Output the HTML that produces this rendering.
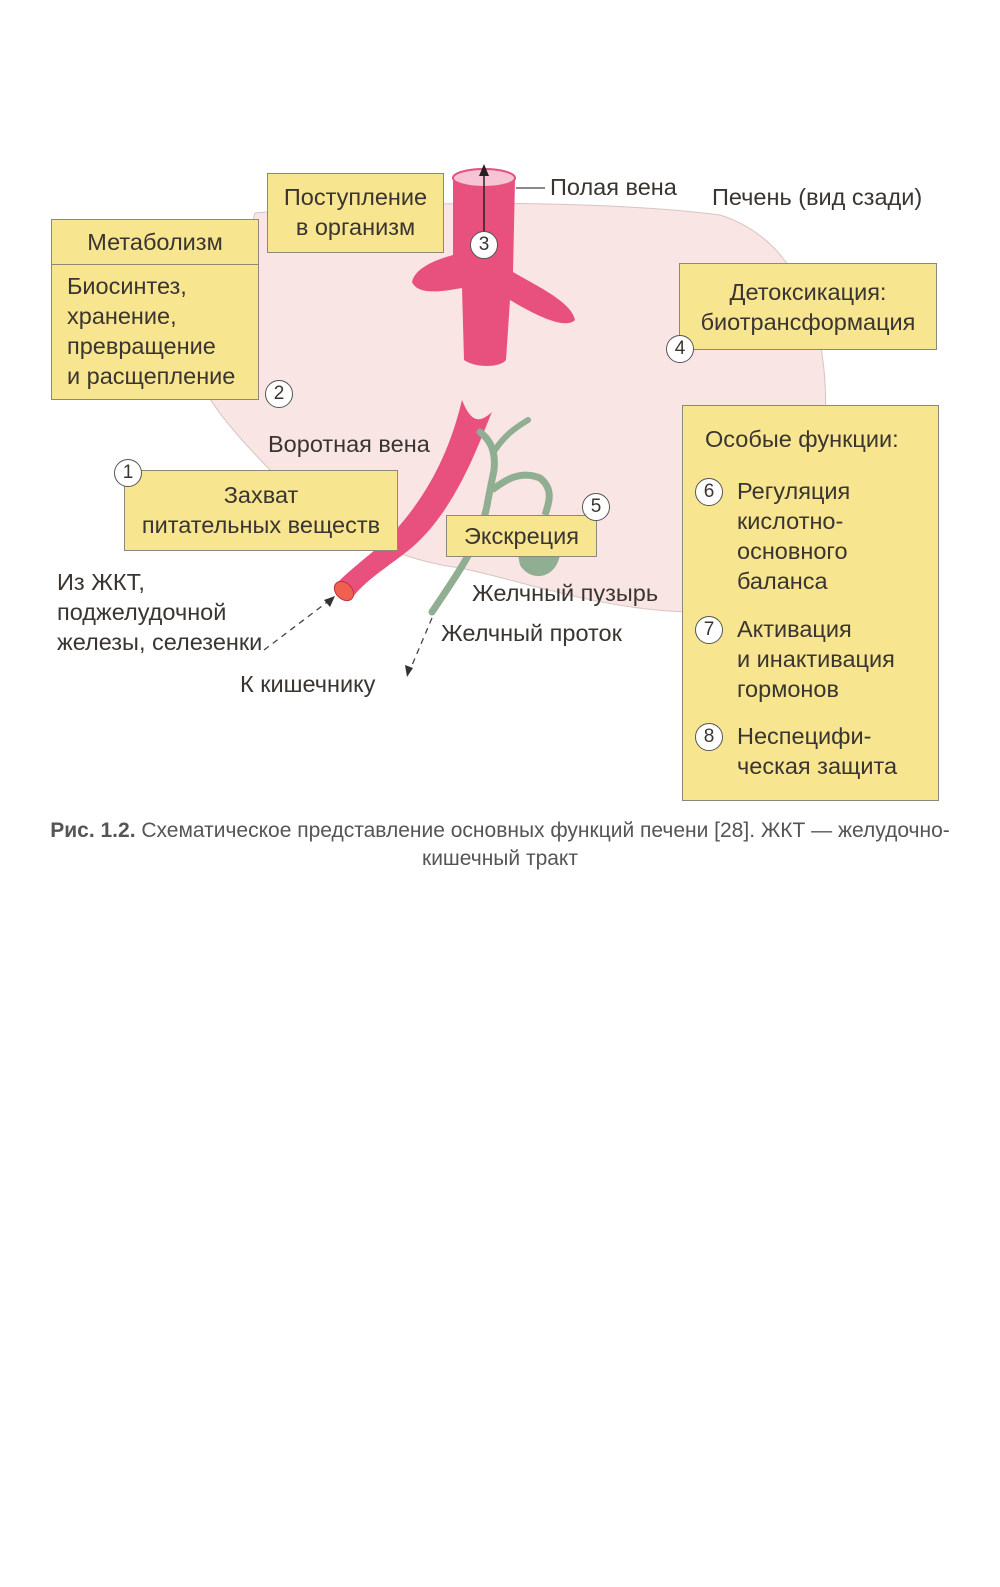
<!DOCTYPE html>
<html><head><meta charset="utf-8"><style>
body{margin:0;background:#fff;width:1000px;height:1587px;position:relative;font-family:"Liberation Sans",sans-serif;color:#3a3530;overflow:hidden}
.b{position:absolute;background:#f7e58f;border:1.5px solid #8d8878;box-sizing:border-box;font-size:23.5px;line-height:30px;white-space:nowrap}
.t{position:absolute;font-size:23.5px;line-height:30px;white-space:nowrap}
.c{position:absolute;width:26px;height:26px;border:1.5px solid #555;border-radius:50%;background:#fff;font-size:19px;line-height:26px;text-align:center}
</style></head><body>
<svg width="1000" height="1587" style="position:absolute;left:0;top:0">
<path d="M255 213 C400 200 600 200 720 215 C800 240 830 330 825 420 C815 520 760 600 690 612 C600 610 520 580 460 568 C400 560 330 530 280 480 C240 440 215 410 205 390 Z" fill="#f9e6e4" stroke="#d8c4c2" stroke-width="1"/>
<path d="M453 178 L453 255 C435 260 415 268 412 282 C418 295 440 292 462 288 L464 360 C475 368 500 368 506 360 L510 300 C535 315 565 330 575 320 C572 302 535 285 513 272 L515 180 Z" fill="#e8507e"/>
<ellipse cx="484" cy="178" rx="31" ry="9" fill="#f6c4d4" stroke="#e8507e" stroke-width="2"/>
<line x1="484" y1="245" x2="484" y2="172" stroke="#222" stroke-width="1.5"/>
<path d="M484 164 L479 176 L489 176 Z" fill="#222"/>
<path d="M462 400 C470 420 478 425 492 412 C480 440 460 500 420 540 C400 560 370 575 352 598 L336 584 C360 560 385 545 400 525 C430 490 450 450 462 400 Z" fill="#e8507e"/>
<ellipse cx="344" cy="591" rx="8" ry="11" transform="rotate(-45 344 591)" fill="#f06050" stroke="#c03040"/>
<path d="M480 432 C490 440 496 450 494 470 C492 480 490 490 488 500 C482 540 460 570 432 612" fill="none" stroke="#8fae92" stroke-width="7" stroke-linecap="round"/>
<path d="M495 450 C505 435 515 428 528 420" fill="none" stroke="#8fae92" stroke-width="6" stroke-linecap="round"/>
<path d="M492 490 C505 480 520 470 540 478 C555 490 548 505 545 515" fill="none" stroke="#8fae92" stroke-width="7"/>
<path d="M528 520 C545 505 565 525 560 555 C555 580 530 582 520 565 C515 545 520 530 528 520 Z" fill="#8fae92"/>
<path d="M264 650 L330 600" stroke="#444" stroke-width="1.3" stroke-dasharray="6,5"/>
<path d="M335 596 L324 600 L330 607 Z" fill="#333"/>
<path d="M432 618 L410 670" stroke="#444" stroke-width="1.3" stroke-dasharray="6,5"/>
<path d="M407 677 L405 665 L413 668 Z" fill="#333"/>
<line x1="516" y1="188" x2="545" y2="188" stroke="#444" stroke-width="1.3"/>
</svg>
<div class="b" style="left:267px;top:173px;width:177px;height:80px;text-align:center;padding-top:8px">Поступление<br>в организм</div>
<div class="b" style="left:51px;top:219px;width:208px;height:181px">
<div style="text-align:center;border-bottom:1.5px solid #8d8878;height:44px;line-height:44px">Метаболизм</div>
<div style="padding:6px 0 0 15px">Биосинтез,<br>хранение,<br>превращение<br>и расщепление</div></div>
<div class="b" style="left:679px;top:263px;width:258px;height:87px;text-align:center;padding-top:13px">Детоксикация:<br>биотрансформация</div>
<div class="b" style="left:124px;top:470px;width:274px;height:81px;text-align:center;padding-top:9px">Захват<br>питательных веществ</div>
<div class="b" style="left:446px;top:515px;width:151px;height:42px;text-align:center;line-height:40px">Экскреция</div>
<div class="b" style="left:682px;top:405px;width:257px;height:396px">
<div style="position:absolute;left:22px;top:18px">Особые функции:</div>
<div style="position:absolute;left:54px;top:70px">Регуляция<br>кислотно-<br>основного<br>баланса</div>
<div style="position:absolute;left:54px;top:208px">Активация<br>и инактивация<br>гормонов</div>
<div style="position:absolute;left:54px;top:315px">Неспецифи-<br>ческая защита</div>
<div class="c" style="left:12px;top:72px">6</div>
<div class="c" style="left:12px;top:210px">7</div>
<div class="c" style="left:12px;top:317px">8</div>
</div>
<div class="c" style="left:470px;top:231px">3</div>
<div class="c" style="left:265px;top:380px">2</div>
<div class="c" style="left:666px;top:335px">4</div>
<div class="c" style="left:114px;top:459px">1</div>
<div class="c" style="left:582px;top:493px">5</div>
<div class="t" style="left:550px;top:172px">Полая вена</div>
<div class="t" style="left:712px;top:182px">Печень (вид сзади)</div>
<div class="t" style="left:268px;top:429px">Воротная вена</div>
<div class="t" style="left:57px;top:567px">Из ЖКТ,<br>поджелудочной<br>железы, селезенки</div>
<div class="t" style="left:472px;top:578px">Желчный пузырь</div>
<div class="t" style="left:441px;top:618px">Желчный проток</div>
<div class="t" style="left:240px;top:669px">К кишечнику</div>
<div class="t" style="left:0;top:817px;font-size:21px;line-height:28px;width:1000px;white-space:normal;text-align:center;color:#555"><b>Рис. 1.2.</b> Схематическое представление основных функций печени [28]. ЖКТ — желудочно-<br>кишечный тракт</div>
</body></html>
